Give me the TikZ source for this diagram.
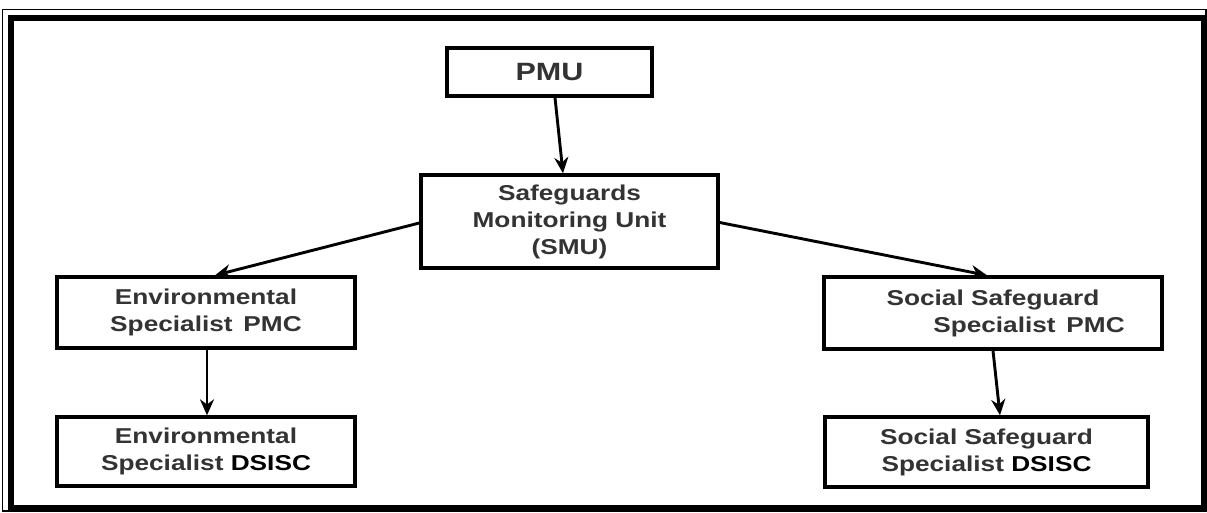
\documentclass[tikz,border=0pt]{standalone}
\usepackage{fontspec}
\setmainfont{Liberation Sans}[FakeStretch=1.22]
\usetikzlibrary{arrows.meta}
\definecolor{txt}{HTML}{333333}
\tikzset{
  box/.style={draw=black, line width=3.4pt, fill=white, align=center, inner sep=0pt,
    font=\fontsize{21.5}{27}\selectfont\bfseries, text=txt},
  arr/.style={draw=black, line width=2.9pt, -{Stealth[length=16pt,width=14pt]}},
}
\begin{document}
\begin{tikzpicture}[x=1pt,y=-1pt]
\useasboundingbox (0,0) rectangle (1207,512);
\fill[white] (0,0) rectangle (1207,512);
\draw[line width=1.4pt] (2.5,9.5) rectangle (1206,511);
\draw[line width=5.5pt] (11,18) rectangle (1203.5,507.5);

\node[box, minimum width=205pt, minimum height=48pt, font=\fontsize{25}{30}\selectfont\bfseries] (pmu) at (549.5,72) {PMU};
\node[box, minimum width=297pt, minimum height=93pt] (smu) at (569.5,221.5) {Safeguards\\Monitoring Unit\\(SMU)};
\node[box, minimum width=298pt, minimum height=71pt] (envpmc) at (206,312.5) {Environmental\\Specialist\enspace PMC};
\node[box, minimum width=298pt, minimum height=69pt] (envds) at (206,451.5) {Environmental\\Specialist {\color{black}DSISC}};
\node[box, minimum width=338pt, minimum height=72pt] (socpmc) at (993,313) {Social Safeguard\\\hspace*{72pt}Specialist\enspace PMC};
\node[box, minimum width=323pt, minimum height=70pt] (socds) at (986.5,452) {Social Safeguard\\Specialist {\color{black}DSISC}};

\draw[arr] ([xshift=5.5pt]pmu.south) -- ([xshift=-6.5pt]smu.north);
\draw[arr] ([yshift=-1.5pt]smu.west) -- ([xshift=9pt]envpmc.north);
\draw[arr] ([yshift=-1pt]smu.east) -- ([xshift=-6pt]socpmc.north);
\draw[arr] ([xshift=1pt]envpmc.south) -- ([xshift=1pt]envds.north);
\draw[arr] (socpmc.south) -- ([xshift=13.5pt]socds.north);
\end{tikzpicture}
\end{document}
